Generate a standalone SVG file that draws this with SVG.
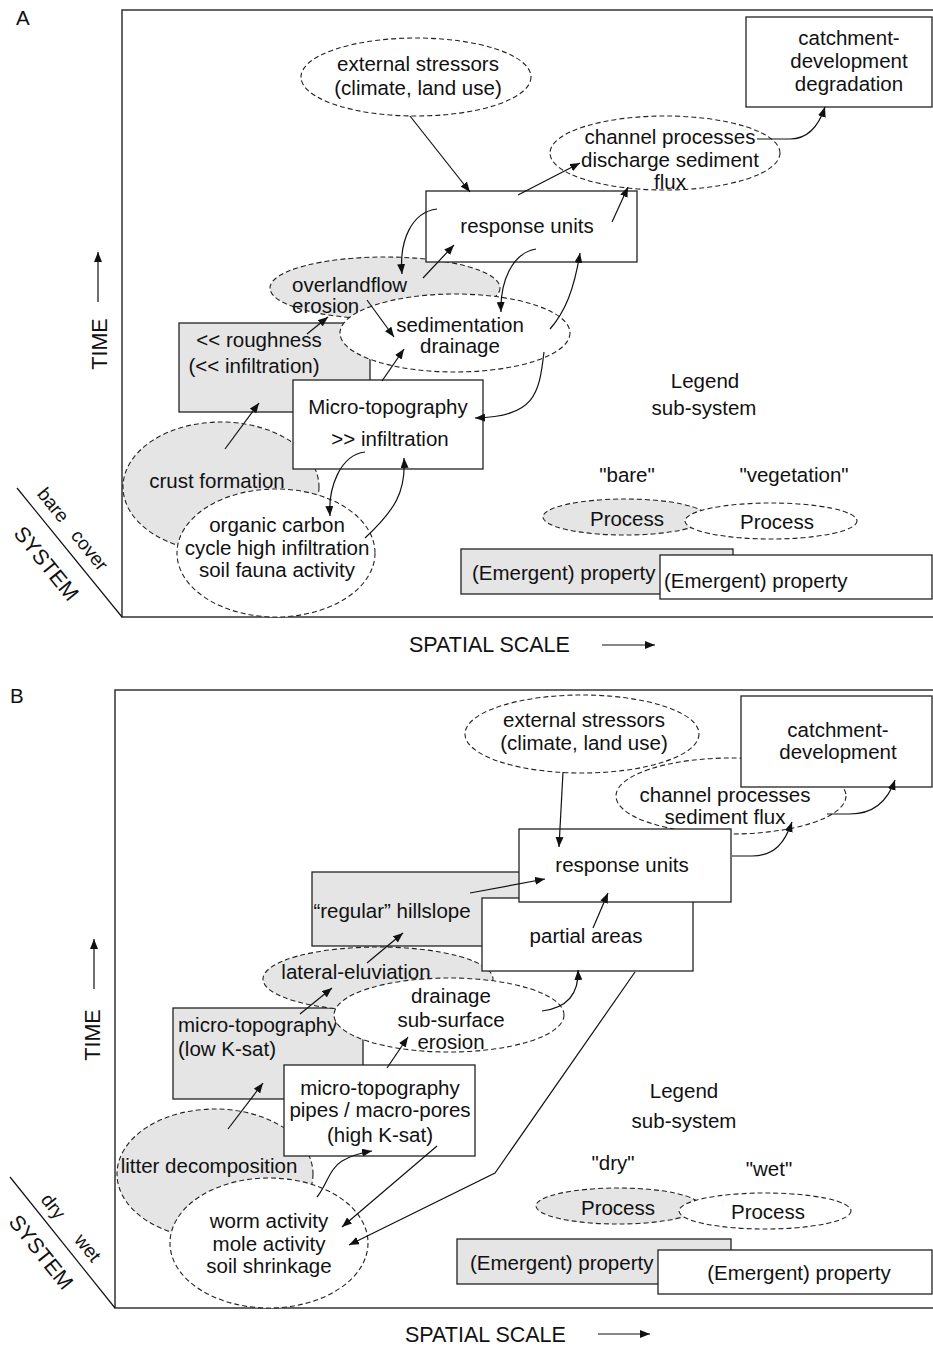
<svg xmlns="http://www.w3.org/2000/svg" width="933" height="1347" viewBox="0 0 933 1347">
<defs>
<marker id="ah" viewBox="0 0 10 8" refX="10" refY="4" markerWidth="10" markerHeight="8" markerUnits="userSpaceOnUse" orient="auto"><path d="M0,0 L10,4 L0,8 z" fill="#111"/></marker>
</defs>
<style>
text{font-family:"Liberation Sans",Arial,sans-serif;font-size:20.5px;fill:#111}
.c{text-anchor:middle}
.ax{font-size:21.5px}
.sm{font-size:19px}
.box{fill:#fff;stroke:#222;stroke-width:1.3}
.gbox{fill:#e5e5e5;stroke:#222;stroke-width:1.3}
.ell{fill:#fff;stroke:#222;stroke-width:1.1;stroke-dasharray:5,3}
.gell{fill:#e5e5e5;stroke:#222;stroke-width:1.1;stroke-dasharray:5,3}
.frame{fill:none;stroke:#333;stroke-width:1.5}
.con{fill:none;stroke:#111;stroke-width:1.2;marker-end:url(#ah)}
.ln{fill:none;stroke:#111;stroke-width:1.2}
</style>
<rect width="933" height="1347" fill="#fff"/>

<!-- ===== Panel A ===== -->
<g id="panelA-axes">
<text x="16" y="25">A</text>
<path class="frame" d="M933,10 H122 V617 H933"/>
<path class="ln" d="M17,488 L122,617"/>
<g transform="translate(17,488) rotate(51)">
<text class="c sm" x="36" y="-11">bare</text>
<text class="c sm" x="94" y="-11">cover</text>
<text class="c ax" x="77" y="32">SYSTEM</text>
</g>
<text class="c ax" transform="translate(107,344) rotate(-90)">TIME</text>
<path class="con" d="M98,302 V252"/>
<text class="ax" x="409" y="652">SPATIAL SCALE</text>
<path class="con" d="M602,645 H655"/>
</g>

<g id="A-crust"><ellipse class="gell" cx="221" cy="487" rx="98" ry="65"/><text class="c" x="217" y="488">crust formation</text></g>
<g id="A-roughness"><rect class="gbox" x="179" y="323" width="191" height="89"/><text class="c" x="259" y="347">&lt;&lt; roughness</text><text class="c" x="254" y="373">(&lt;&lt; infiltration)</text></g>
<g id="A-overland"><ellipse class="gell" cx="385" cy="288" rx="115" ry="31"/><text x="292" y="292">overlandflow</text><text x="292" y="313">erosion</text></g>
<g id="A-response"><rect class="box" x="426" y="191" width="211" height="71"/><text class="c" x="527" y="233">response units</text></g>
<g id="A-sedimentation"><ellipse class="ell" cx="455" cy="333" rx="115" ry="39"/><text class="c" x="460" y="332">sedimentation</text><text class="c" x="460" y="353">drainage</text></g>
<g id="A-microtopo"><rect class="box" x="293" y="380" width="190" height="89"/><text class="c" x="388" y="414">Micro-topography</text><text class="c" x="390" y="446">&gt;&gt; infiltration</text></g>
<g id="A-organic"><ellipse class="ell" cx="276" cy="553" rx="99" ry="64"/><text class="c" x="277" y="532">organic carbon</text><text class="c" x="277" y="555">cycle high infiltration</text><text class="c" x="277" y="577">soil fauna activity</text></g>
<g id="A-channel"><ellipse class="ell" cx="665" cy="153" rx="115" ry="37"/><text class="c" x="670" y="144">channel processes</text><text class="c" x="670" y="167">discharge sediment</text><text class="c" x="670" y="189">flux</text></g>
<g id="A-external"><ellipse class="ell" cx="416" cy="77" rx="115" ry="39"/><text class="c" x="418" y="71">external stressors</text><text class="c" x="418" y="95">(climate, land use)</text></g>
<g id="A-catchment"><rect class="box" x="746" y="17" width="186" height="90"/><text class="c" x="849" y="45">catchment-</text><text class="c" x="849" y="68">development</text><text class="c" x="849" y="91">degradation</text></g>

<g id="A-legend">
<text class="c" x="705" y="388">Legend</text>
<text class="c" x="704" y="415">sub-system</text>
<text class="c" x="627" y="482">"bare"</text>
<text class="c" x="794" y="482">"vegetation"</text>
<ellipse class="gell" cx="625" cy="517" rx="82" ry="18"/>
<text class="c" x="627" y="526">Process</text>
<ellipse class="ell" cx="771" cy="521" rx="86" ry="18"/>
<text class="c" x="777" y="529">Process</text>
<rect class="gbox" x="461" y="549" width="272" height="45"/>
<text x="472" y="580">(Emergent) property</text>
<rect class="box" x="660" y="555" width="272" height="44"/>
<text x="664" y="588">(Emergent) property</text>
</g>

<g id="A-connectors">
<path class="con" d="M410,116 L470,192"/>
<path class="con" d="M518,195 L580,163"/>
<path class="con" d="M612,222 L628,187"/>
<path class="con" d="M757,139 L790,139 C810,139 820,122 825,107"/>
<path class="con" d="M437,209 C412,212 399,240 402,274"/>
<path class="con" d="M423,278 L454,245"/>
<path class="con" d="M536,249 C512,253 500,282 501,312"/>
<path class="con" d="M550,329 C565,312 574,290 580,253"/>
<path class="con" d="M367,300 L394,337"/>
<path class="con" d="M307,334 L328,317"/>
<path class="con" d="M382,381 L404,349"/>
<path class="con" d="M544,352 C539,395 535,416 475,418"/>
<path class="con" d="M225,449 L259,403"/>
<path class="con" d="M365,452 C340,455 328,488 330,516"/>
<path class="con" d="M365,538 C395,510 406,492 404,458"/>
</g>

<!-- ===== Panel B ===== -->
<g id="panelB-axes">
<text x="10" y="703">B</text>
<path class="frame" d="M933,690 H115 V1308 H933"/>
<path class="ln" d="M10,1177 L115,1308"/>
<g transform="translate(10,1177) rotate(51.3)">
<text class="c sm" x="50" y="-9">dry</text>
<text class="c sm" x="104" y="-10">wet</text>
<text class="c ax" x="78" y="30">SYSTEM</text>
</g>
<text class="c ax" transform="translate(100,1035) rotate(-90)">TIME</text>
<path class="con" d="M94,989 V939"/>
<text class="ax" x="405" y="1342">SPATIAL SCALE</text>
<path class="con" d="M598,1334 H650"/>
</g>

<g id="B-litter"><ellipse class="gell" cx="215" cy="1174" rx="98" ry="65"/><text class="c" x="209" y="1173">litter decomposition</text></g>
<g id="B-lowksat"><rect class="gbox" x="173" y="1008" width="190" height="91"/><text x="178" y="1032">micro-topography</text><text x="178" y="1056">(low K-sat)</text></g>
<g id="B-lateral"><ellipse class="gell" cx="378" cy="979" rx="115" ry="32"/><text class="c" x="356" y="979">lateral-eluviation</text></g>
<g id="B-hillslope"><rect class="gbox" x="312" y="872" width="220" height="74"/><text class="c" x="392" y="918">“regular” hillslope</text></g>
<g id="B-drainage"><ellipse class="ell" cx="449" cy="1015" rx="115" ry="37"/><text class="c" x="451" y="1003">drainage</text><text class="c" x="451" y="1027">sub-surface</text><text class="c" x="451" y="1049">erosion</text></g>
<g id="B-pipes"><rect class="box" x="284" y="1065" width="191" height="91"/><text class="c" x="380" y="1095">micro-topography</text><text class="c" x="380" y="1117">pipes / macro-pores</text><text class="c" x="380" y="1142">(high K-sat)</text></g>
<g id="B-worm"><ellipse class="ell" cx="269" cy="1243" rx="99" ry="65"/><text class="c" x="269" y="1228">worm activity</text><text class="c" x="269" y="1251">mole activity</text><text class="c" x="269" y="1273">soil shrinkage</text></g>
<g id="B-partial"><rect class="box" x="482" y="898" width="211" height="73"/><text class="c" x="586" y="943">partial areas</text></g>
<g id="B-channel"><ellipse class="ell" cx="731" cy="796" rx="115" ry="38"/><text class="c" x="725" y="802">channel processes</text><text class="c" x="725" y="824">sediment flux</text></g>
<g id="B-response"><rect class="box" x="519" y="829" width="212" height="73"/><text class="c" x="622" y="872">response units</text></g>
<g id="B-catchment"><rect class="box" x="741" y="696" width="191" height="91"/><text class="c" x="838" y="737">catchment-</text><text class="c" x="838" y="759">development</text></g>
<g id="B-external"><ellipse class="ell" cx="582" cy="734" rx="117" ry="39"/><text class="c" x="584" y="727">external stressors</text><text class="c" x="584" y="750">(climate, land use)</text></g>

<g id="B-legend">
<text class="c" x="684" y="1098">Legend</text>
<text class="c" x="684" y="1128">sub-system</text>
<text class="c" x="613" y="1170">"dry"</text>
<text class="c" x="769" y="1176">"wet"</text>
<ellipse class="gell" cx="618" cy="1206" rx="82" ry="18"/>
<text class="c" x="618" y="1215">Process</text>
<ellipse class="ell" cx="765" cy="1211" rx="86" ry="18"/>
<text class="c" x="768" y="1219">Process</text>
<rect class="gbox" x="457" y="1239" width="274" height="45"/>
<text x="470" y="1270">(Emergent) property</text>
<rect class="box" x="658" y="1250" width="274" height="44"/>
<text class="c" x="799" y="1280">(Emergent) property</text>
</g>

<g id="B-connectors">
<path class="con" d="M563,772 L559,847"/>
<path class="con" d="M732,856 L752,856 C775,856 785,842 792,822"/>
<path class="con" d="M827,814 L850,814 C875,814 888,800 895,780"/>
<path class="con" d="M470,893 L545,879"/>
<path class="con" d="M593,928 L608,893"/>
<path class="con" d="M367,963 L403,933"/>
<path class="con" d="M300,1014 L332,988"/>
<path class="con" d="M542,1011 C566,1008 579,995 578,970"/>
<path class="con" d="M387,1068 L408,1037"/>
<path class="con" d="M228,1129 L263,1083"/>
<path class="con" d="M317,1197 C326,1186 330,1168 342,1161 C352,1155 360,1153 372,1151"/>
<path class="con" d="M437,1146 L342,1227"/>
<path class="con" d="M635,972 L495,1173 L349,1245"/>
</g>
</svg>
